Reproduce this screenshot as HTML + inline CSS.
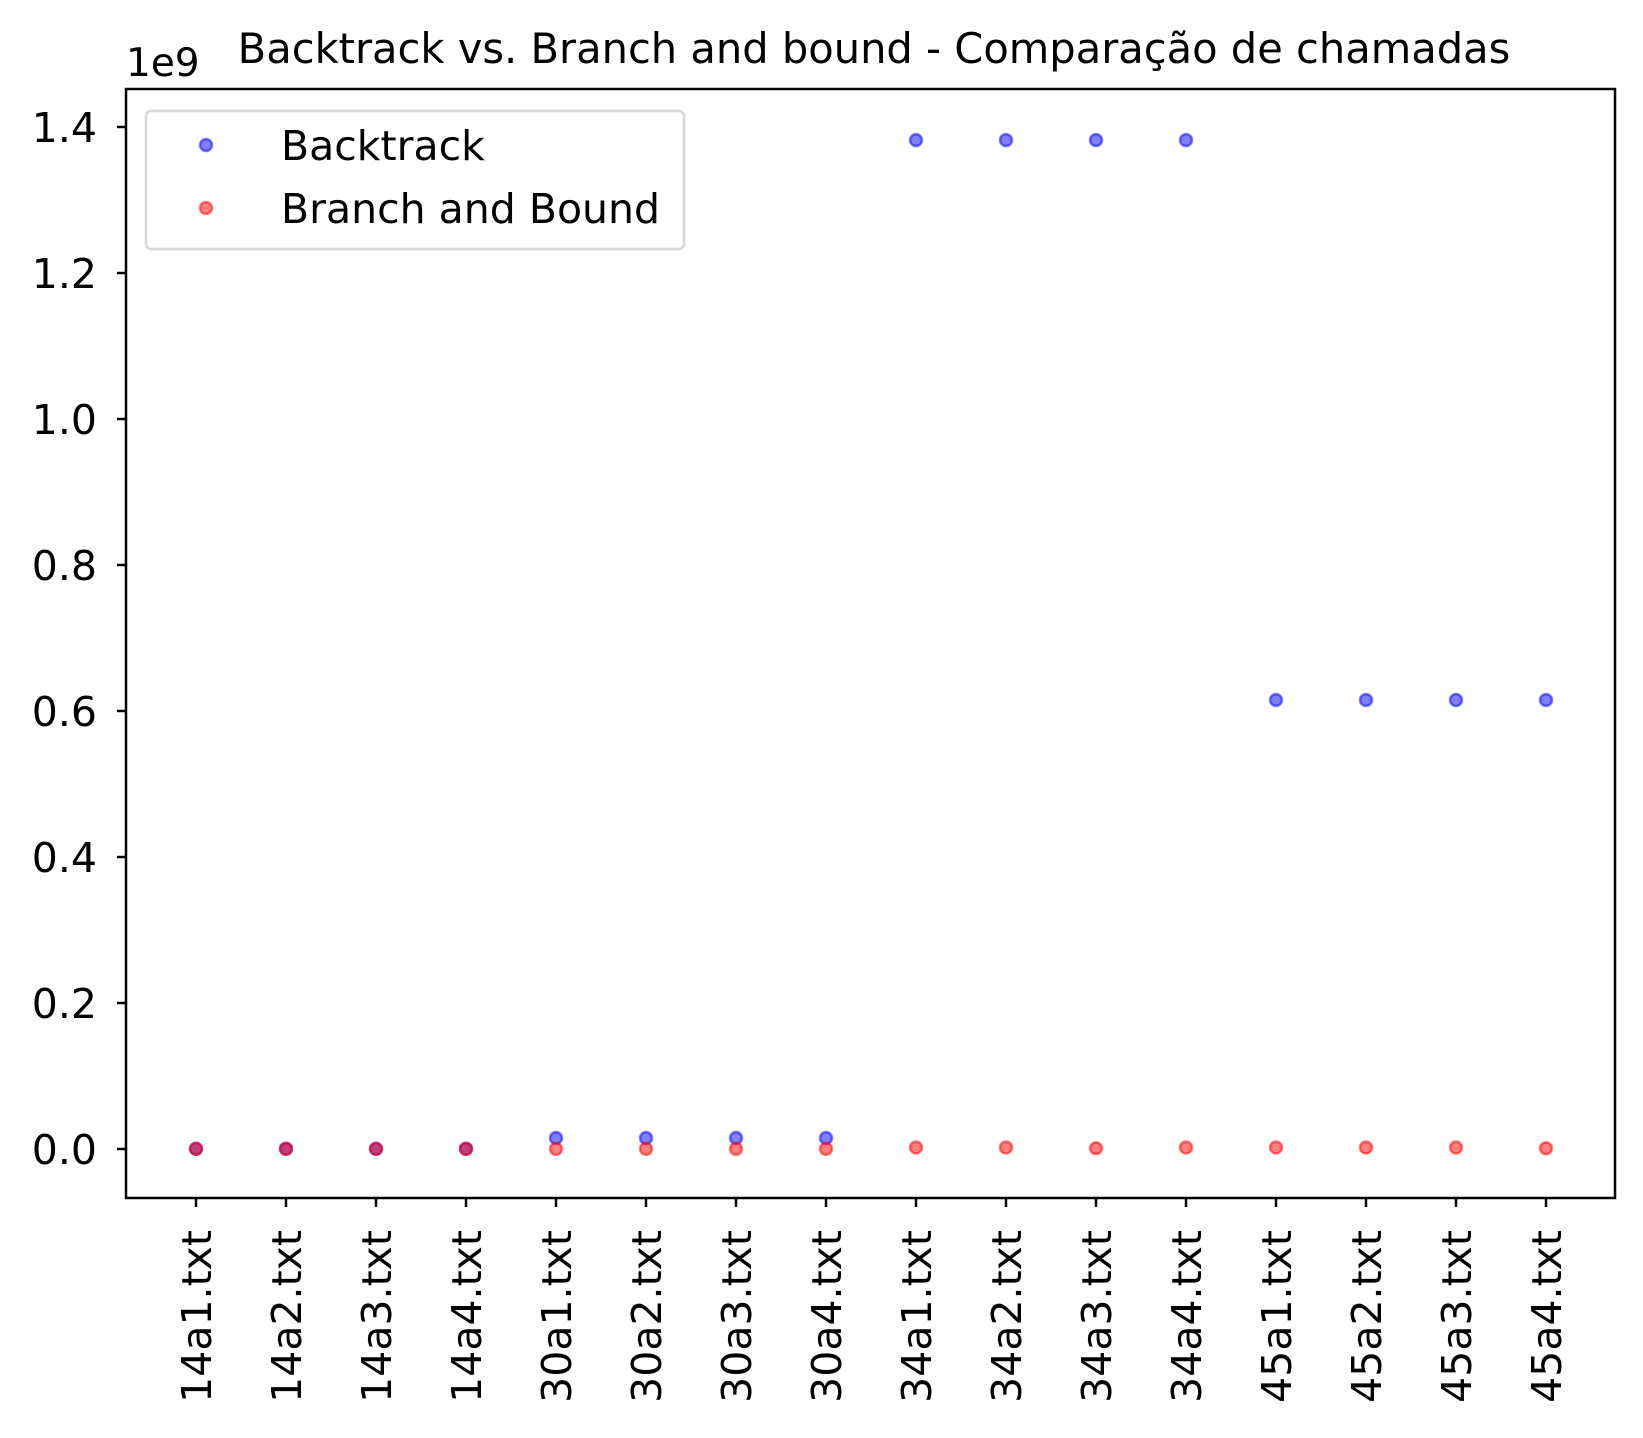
<!DOCTYPE html>
<html><head><meta charset="utf-8"><style>
body{margin:0;background:#fff}
text{font-family:"DejaVu Sans","Liberation Sans",sans-serif;fill:#000}
</style></head><body>
<svg id="chart" width="1643" height="1433" xmlns="http://www.w3.org/2000/svg">
<rect width="1643" height="1433" fill="#fff"/>
<text x="874" y="63" font-size="41.6" text-anchor="middle">Backtrack vs. Branch and bound - Comparação de chamadas</text>
<text x="126" y="76" font-size="39">1e9</text>
<g id="ticks"></g>
<g id="marks"></g>
<rect x="126" y="89" width="1489" height="1109" fill="none" stroke="#000" stroke-width="2.5"/>
<g>
<rect x="146" y="111" width="538" height="138" rx="5" fill="#fff" fill-opacity="0.8" stroke="#d6d6d6" stroke-width="2.5"/>
<circle cx="206" cy="145" r="6" fill="rgba(0,0,255,0.5)" stroke="rgba(0,0,255,0.5)" stroke-width="2.5"/>
<text x="281" y="160" font-size="41">Backtrack</text>
<circle cx="206" cy="208" r="6" fill="rgba(255,0,0,0.5)" stroke="rgba(255,0,0,0.5)" stroke-width="2.5"/>
<text x="281" y="223" font-size="41">Branch and Bound</text>
</g>
</svg>
<script>
const categories=["14a1.txt","14a2.txt","14a3.txt","14a4.txt","30a1.txt","30a2.txt","30a3.txt","30a4.txt","34a1.txt","34a2.txt","34a3.txt","34a4.txt","45a1.txt","45a2.txt","45a3.txt","45a4.txt"];
const backtrack=[0.0003,0.0003,0.0003,0.0003,0.015,0.015,0.015,0.015,1.382,1.382,1.382,1.382,0.615,0.615,0.615,0.615];
const branchBound=[0.0001,0.0001,0.0001,0.0001,0.0002,0.0002,0.0002,0.0002,0.002,0.002,0.001,0.002,0.002,0.002,0.002,0.001];
const yTicks=[0.0,0.2,0.4,0.6,0.8,1.0,1.2,1.4];
const NS="http://www.w3.org/2000/svg";
const xS=i=>196+i*90;
const yS=v=>1149-v/0.2*146;
const tg=document.getElementById('ticks'),mg=document.getElementById('marks');
function mk(t,a,p){const e=document.createElementNS(NS,t);for(const k in a)e.setAttribute(k,a[k]);p.appendChild(e);return e;}
yTicks.forEach(v=>{
 const y=yS(v);
 const l=mk('line',{x1:117,x2:126,y1:y,y2:y,stroke:'#000','stroke-width':2.5},tg);
 
 
 const t=mk('text',{x:97,y:y+15,'font-size':41,'text-anchor':'end'},tg);
 t.textContent=v.toFixed(1);
 
 
});
categories.forEach((c,i)=>{
 const x=xS(i);
 const l=mk('line',{x1:x,x2:x,y1:1198,y2:1207,stroke:'#000','stroke-width':2.5},tg);
 
 
 const t=mk('text',{x:0,y:0,'font-size':41,'text-anchor':'end',transform:`translate(${x+15},1230) rotate(-90)`},tg);
 t.textContent=c;
 
 
});
function series(vals,col,name){
 vals.forEach((v,i)=>{
  const c=mk('circle',{cx:xS(i),cy:yS(v),r:6,fill:col,stroke:col,'stroke-width':2.5},mg);
  
  
 });
}
series(backtrack,'rgba(0,0,255,0.5)','backtrack-point');
series(branchBound,'rgba(255,0,0,0.5)','branch-and-bound-point');
</script>
</body></html>
